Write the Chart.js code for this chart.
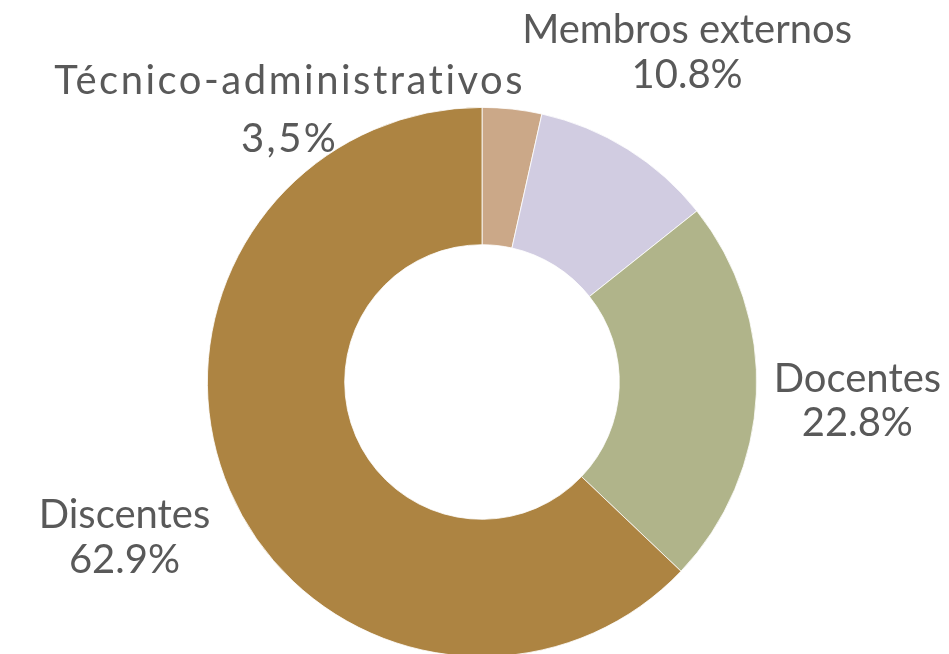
<!DOCTYPE html>
<html>
<head>
<meta charset="utf-8">
<script src="https://cdn.jsdelivr.net/npm/chart.js@4/dist/chart.umd.min.js"></script>
<style>
  html, body { margin: 0; padding: 0; background: #ffffff; overflow: hidden; }
  #wrap { width: 949px; height: 654px; overflow: hidden; }
</style>
</head>
<body>
<div id="wrap"><canvas id="chart" width="949" height="700"></canvas></div>
<script>
// Composição por segmento (%)
const categories = ['Técnico-administrativos', 'Membros externos', 'Docentes', 'Discentes'];
const shares = [3.5, 10.8, 22.8, 62.9];
const shareLabels = ['3,5%', '10.8%', '22.8%', '62.9%'];
const sliceColors = ['#CBA888', '#D1CCE1', '#B0B48A', '#AD8442'];

// Label anchors in units of the outer radius, relative to the doughnut centre:
// [x of text centre, baseline of name, baseline of value]
const labelAnchors = [
  [-0.705, -1.047, -0.836],
  [ 0.747, -1.233, -1.069],
  [ 1.367,  0.036,  0.196],
  [-1.302,  0.531,  0.695]
];
// extra tracking (px) for each label block
const labelTracking = [2.5, 0, 0, 0];

const sliceLabels = {
  id: 'sliceLabels',
  afterDatasetsDraw(chart) {
    const ctx = chart.ctx;
    const arcs = chart.getDatasetMeta(0).data;
    ctx.save();
    ctx.fillStyle = '#595959';
    ctx.textAlign = 'center';
    ctx.textBaseline = 'alphabetic';
    ctx.font = '40px Lato';
    arcs.forEach((arc, i) => {
      const r = arc.outerRadius;
      const a = labelAnchors[i];
      const t = labelTracking[i];
      ctx.letterSpacing = t + 'px';
      ctx.fontVariantLigatures = t ? 'none' : 'normal';
      const x = arc.x + a[0] * r + t / 2;
      ctx.fillText(categories[i], x, arc.y + a[1] * r);
      ctx.fillText(shareLabels[i], x, arc.y + a[2] * r);
    });
    ctx.restore();
  }
};

new Chart(document.getElementById('chart'), {
  type: 'doughnut',
  data: {
    labels: categories,
    datasets: [{
      data: shares,
      backgroundColor: sliceColors,
      borderColor: '#ffffff',
      borderWidth: 0.8,
      hoverOffset: 0
    }]
  },
  options: {
    responsive: false,
    animation: false,
    cutout: '50%',
    layout: { padding: { left: 207, right: 192, top: 107, bottom: 43 } },
    plugins: {
      legend: { display: false },
      tooltip: { enabled: false }
    }
  },
  plugins: [sliceLabels]
});
</script>
</body>
</html>
